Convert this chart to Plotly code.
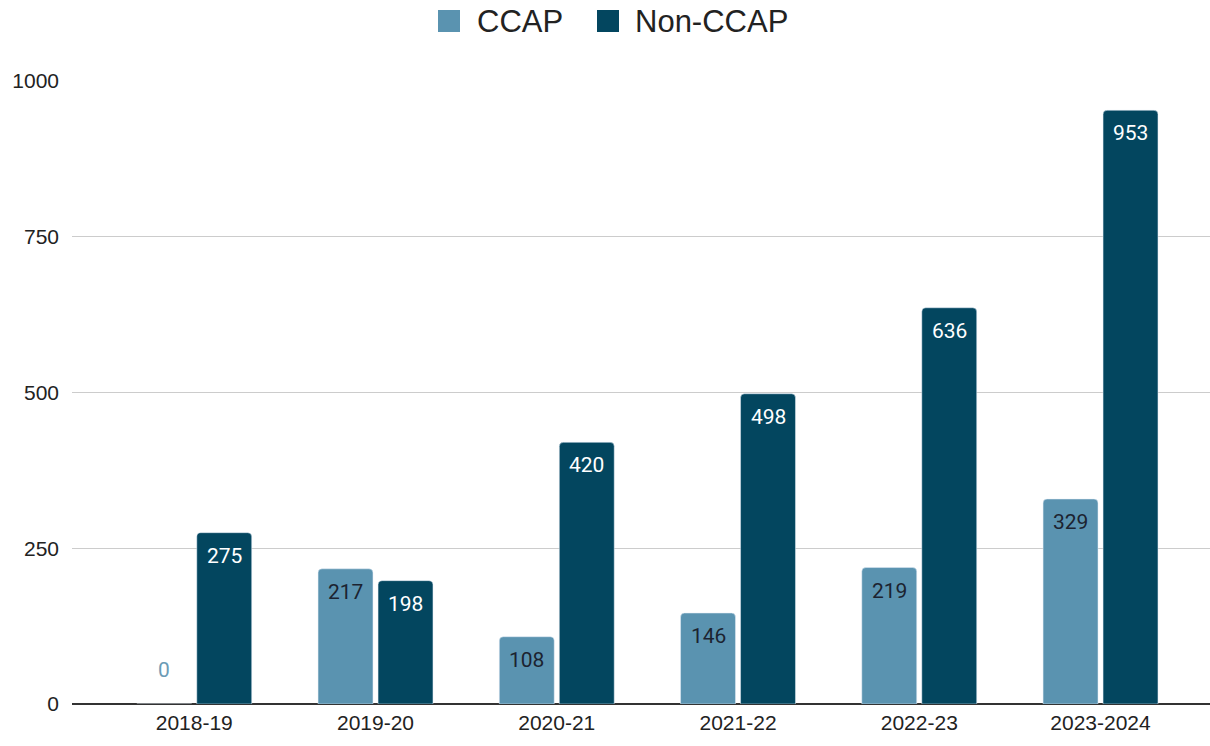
import plotly.graph_objects as go

categories = ["2018-19", "2019-20", "2020-21", "2021-22", "2022-23", "2023-2024"]
ccap = [0, 217, 108, 146, 219, 329]
non_ccap = [275, 198, 420, 498, 636, 953]
y_ticks = [0, 250, 500, 750, 1000]
series_names = ["CCAP", "Non-CCAP"]

C_LIGHT = "#5a93b0"
C_DARK = "#03465f"

W, H = 1210, 746
ML, MR, MT, MB = 72, 0, 81, 42
PW, PH = W - ML - MR, H - MT - MB

BAR_W = 0.303
OFF_L = -0.317
OFF_R = 0.014

xs = list(range(len(categories)))

fig = go.Figure()
fig.add_trace(go.Bar(x=xs, y=ccap, name=series_names[0], marker_color=C_LIGHT,
                     width=BAR_W, offset=OFF_L, showlegend=False, hoverinfo="x+y"))
fig.add_trace(go.Bar(x=xs, y=non_ccap, name=series_names[1], marker_color=C_DARK,
                     width=BAR_W, offset=OFF_R, showlegend=False, hoverinfo="x+y"))

annotations = []
for i, v in enumerate(ccap):
    xc = i + OFF_L + BAR_W / 2
    if v == 0:
        annotations.append(dict(x=xc, y=v, xref="x", yref="y", text=str(v), showarrow=False,
                                yshift=34, font=dict(family="Roboto", size=21, color="#6c9bb5")))
    else:
        annotations.append(dict(x=xc, y=v, xref="x", yref="y", text=str(v), showarrow=False,
                                yshift=-23, font=dict(family="Roboto", size=21, color="#1c2330")))
for i, v in enumerate(non_ccap):
    xc = i + OFF_R + BAR_W / 2
    annotations.append(dict(x=xc, y=v, xref="x", yref="y", text=str(v), showarrow=False,
                            yshift=-23, font=dict(family="Roboto", size=21, color="#ffffff")))

def px_x(p):
    return (p - ML) / PW

def px_y(p):
    return (H - MB - p) / PH

# legend drawn manually (large swatches)
shapes = []
for (x0, x1), col in [((438, 460), C_LIGHT), ((597, 619), C_DARK)]:
    shapes.append(dict(type="rect", xref="paper", yref="paper",
                       x0=px_x(x0), x1=px_x(x1), y0=px_y(32), y1=px_y(10),
                       fillcolor=col, line=dict(width=0)))
for name, xl in zip(series_names, [475, 633]):
    annotations.append(dict(x=px_x(xl), y=px_y(21), xref="paper", yref="paper", text=name,
                            showarrow=False, xanchor="left", yanchor="middle",
                            font=dict(family="Liberation Sans, Arial", size=31, color="#222222")))

fig.update_layout(
    width=W, height=H,
    margin=dict(l=ML, r=MR, t=MT, b=MB, pad=0),
    paper_bgcolor="white", plot_bgcolor="white",
    barcornerradius=4,
    annotations=annotations,
    shapes=shapes,
    font=dict(family="Liberation Sans, Arial", size=21, color="#222222"),
    xaxis=dict(
        tickmode="array", tickvals=xs, ticktext=categories,
        range=[-0.6745, 5.604], showgrid=False, zeroline=False,
        showline=False, ticks="", ticklabelstandoff=4,
        tickfont=dict(size=21, color="#222222"),
    ),
    yaxis=dict(
        range=[0, 1000], tickvals=y_ticks, ticktext=[str(t) for t in y_ticks],
        showgrid=True, gridcolor="#cccccc", gridwidth=1,
        zeroline=True, zerolinecolor="#333333", zerolinewidth=1.5,
        showline=False, ticks="", ticklabelstandoff=12,
        tickfont=dict(size=21, color="#222222"),
    ),
    showlegend=False,
)

fig.write_html("out.html", config={"displayModeBar": False},
               post_script="document.body.style.margin='0';document.body.style.overflow='hidden';")
